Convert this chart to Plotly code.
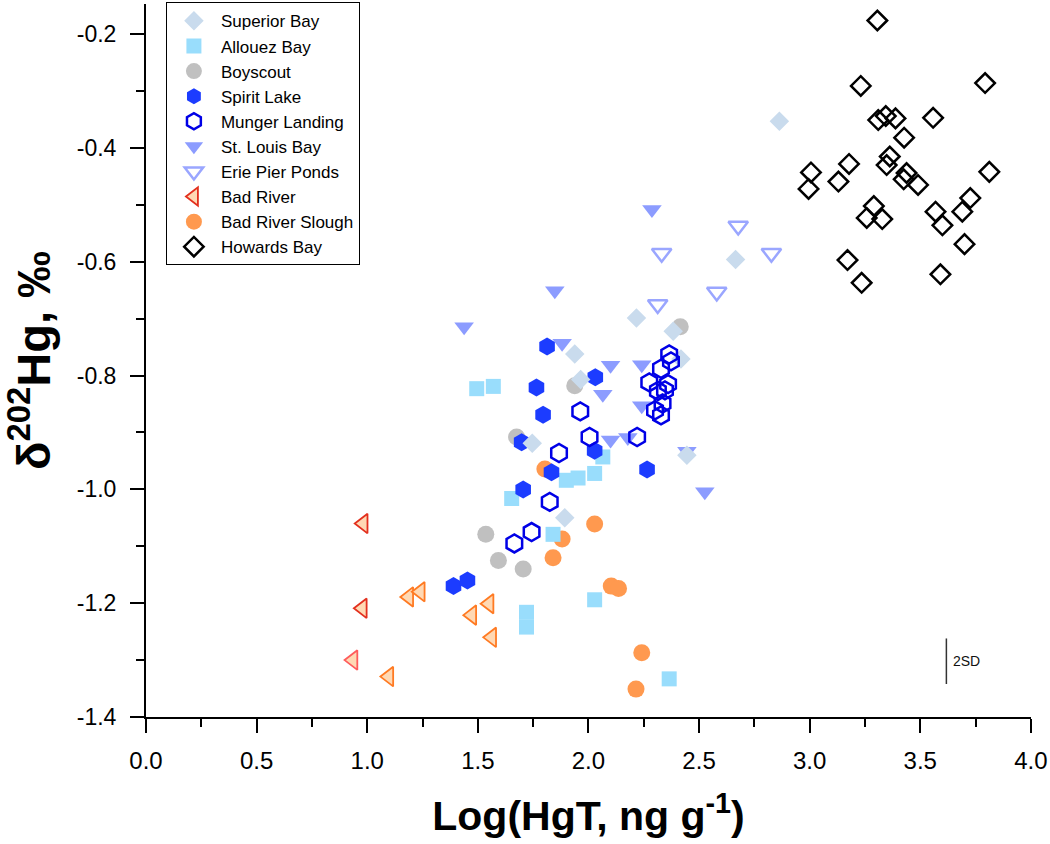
import plotly.graph_objects as go

# ---------------- data ----------------
superior_x = [2.863, 2.665, 2.217, 2.383, 2.418, 1.938, 1.965, 1.746, 2.445, 1.893]
superior_y = [-0.353, -0.596, -0.699, -0.722, -0.771, -0.762, -0.807, -0.919, -0.940, -1.050]

allouez_x = [1.495, 1.570, 2.065, 2.028, 1.953, 1.900, 1.653, 1.840, 1.720, 1.720, 2.028, 2.365]
allouez_y = [-0.823, -0.819, -0.943, -0.972, -0.980, -0.984, -1.016, -1.079, -1.216, -1.242, -1.194, -1.333]

boyscout_x = [2.415, 1.938, 1.675, 1.536, 1.593, 1.705]
boyscout_y = [-0.714, -0.818, -0.908, -1.079, -1.125, -1.140]

spirit_x = [1.813, 2.031, 1.765, 1.795, 1.698, 2.028, 1.833, 2.265, 1.705, 1.390, 1.453]
spirit_y = [-0.749, -0.803, -0.821, -0.869, -0.917, -0.932, -0.970, -0.965, -1.000, -1.170, -1.160]

munger_x = [2.365, 2.373, 2.328, 2.275, 2.360, 2.314, 2.346, 2.335, 2.301, 2.328,
            1.963, 2.005, 2.220, 1.867, 1.825, 1.743, 1.665]
munger_y = [-0.763, -0.775, -0.788, -0.812, -0.815, -0.827, -0.826, -0.849, -0.861, -0.870,
            -0.863, -0.908, -0.908, -0.936, -1.022, -1.075, -1.095]

stlouis_x = [1.438, 1.848, 2.287, 1.881, 2.100, 2.241, 2.065, 2.241, 2.100, 2.178, 2.445, 2.526]
stlouis_y = [-0.714, -0.651, -0.508, -0.743, -0.782, -0.781, -0.833, -0.853, -0.913, -0.909, -0.933, -1.004]

erie_x = [2.677, 2.331, 2.827, 2.580, 2.313]
erie_y = [-0.537, -0.585, -0.585, -0.653, -0.675]

badriver_x = [0.982, 0.978, 1.188, 1.240, 1.473, 1.551, 1.563, 0.936, 1.098]
badriver_y = [-1.060, -1.209, -1.189, -1.180, -1.221, -1.201, -1.260, -1.300, -1.329]
badriver_edge = ["#e3301e", "#e3301e", "#ff7a22", "#ff7a22", "#ff7a22", "#ff7a22", "#ff7a22", "#ff5c5c", "#ff7a22"]

slough_x = [2.028, 1.881, 1.840, 1.803, 2.103, 2.136, 2.241, 2.215]
slough_y = [-1.061, -1.087, -1.120, -0.964, -1.170, -1.174, -1.287, -1.351]

howards_x = [3.306, 3.231, 3.793, 3.344, 3.310, 3.388, 3.558, 3.427, 3.362, 3.348,
             3.178, 3.006, 2.995, 3.130, 3.438, 3.425, 3.490, 3.812, 3.290, 3.258,
             3.328, 3.569, 3.600, 3.726, 3.690, 3.700, 3.171, 3.235, 3.591]
howards_y = [-0.176, -0.291, -0.286, -0.344, -0.351, -0.348, -0.347, -0.382, -0.415, -0.430,
             -0.428, -0.443, -0.472, -0.459, -0.444, -0.455, -0.465, -0.442, -0.502, -0.523,
             -0.525, -0.512, -0.536, -0.488, -0.512, -0.569, -0.597, -0.637, -0.622]

# 2SD reference bar
sd_x = 3.618
sd_center = -1.302
sd_2 = 0.08

x_ticks = [0.0, 0.5, 1.0, 1.5, 2.0, 2.5, 3.0, 3.5, 4.0]
y_ticks = [-0.2, -0.4, -0.6, -0.8, -1.0, -1.2, -1.4]

# ---------------- figure ----------------
fig = go.Figure()

def add(name, x, y, symbol, size, color, line_color=None, line_width=0, rank=0):
    fig.add_trace(go.Scatter(
        x=x, y=y, mode="markers", name=name, legendrank=rank,
        marker=dict(symbol=symbol, size=size, color=color,
                    line=dict(color=line_color if line_color is not None else color,
                              width=line_width)),
    ))

# drawing order (bottom -> top); legendrank keeps the reference legend order
add("Howards Bay", howards_x, howards_y, "diamond-open", 15, "#000000", "#000000", 2.5, 10)
add("Bad River Slough", slough_x, slough_y, "circle", 17, "#ff994f", rank=9)
add("Bad River", badriver_x, badriver_y, "triangle-left", 17, "#ffd9b4", badriver_edge, 1.8, 8)
add("Erie Pier Ponds", erie_x, erie_y, "triangle-down-open", 17, "#9aa6ff", "#9aa6ff", 2.5, 7)
add("St. Louis Bay", stlouis_x, stlouis_y, "triangle-down", 17, "#8c9cff", rank=6)
add("Boyscout", boyscout_x, boyscout_y, "circle", 17, "#c0c0c0", rank=3)
add("Allouez Bay", allouez_x, allouez_y, "square", 15, "#99ddfc", rank=2)
add("Spirit Lake", spirit_x, spirit_y, "hexagon", 18, "#1c3cff", rank=4)
add("Superior Bay", superior_x, superior_y, "diamond", 15, "#c9dbed", rank=1)
add("Munger Landing", munger_x, munger_y, "hexagon-open", 18, "#0000e6", "#0000e6", 2.5, 5)

# 2SD bar
fig.add_shape(type="line", xref="x", yref="y",
              x0=sd_x, x1=sd_x, y0=sd_center - sd_2 / 2, y1=sd_center + sd_2 / 2,
              line=dict(color="#333333", width=1.5))
fig.add_annotation(x=sd_x, y=sd_center, xref="x", yref="y", text="2SD",
                   showarrow=False, xanchor="left", xshift=5,
                   font=dict(family="Liberation Sans, Arial", size=14, color="#111111"))

axis_common = dict(
    showline=True, linecolor="black", linewidth=2,
    ticks="outside", ticklen=14, tickwidth=2, tickcolor="black",
    showgrid=False, zeroline=False, mirror=False, automargin=False,
    ticklabeloverflow="allow",
)

fig.update_layout(
    width=1050, height=844,
    margin=dict(l=146, r=19, t=3, b=127),
    paper_bgcolor="white", plot_bgcolor="white",
    showlegend=True,
    legend=dict(
        x=0.0225, y=1.001, xanchor="left", yanchor="top",
        bordercolor="black", borderwidth=1, bgcolor="white",
        font=dict(family="Liberation Sans, Arial", size=17, color="black"),
        itemsizing="trace", itemwidth=44, tracegroupgap=0,
    ),
    xaxis=dict(
        range=[0, 4.0005], tickmode="array", tickvals=x_ticks,
        ticktext=[f"{v:.1f}" for v in x_ticks],
        tickfont=dict(family="Liberation Sans Narrow, Arial Narrow, Liberation Sans", size=24, color="black"),
        ticklabelstandoff=7,
        minor=dict(ticks="outside", ticklen=8, tickwidth=2, tickcolor="black", dtick=0.25, showgrid=False),
        title=dict(text="<b>Log(HgT, ng g<sup>-1</sup>)</b>", standoff=29,
                   font=dict(family="Liberation Sans Narrow, Arial Narrow, Liberation Sans", size=41, color="black")),
        **axis_common,
    ),
    yaxis=dict(
        range=[-1.4, -0.147], tickmode="array", tickvals=y_ticks,
        ticktext=[f"{v:.1f}" for v in y_ticks],
        tickfont=dict(family="Liberation Sans, Arial", size=23, color="black"),
        ticklabelstandoff=9,
        minor=dict(ticks="outside", ticklen=8, tickwidth=2, tickcolor="black", dtick=0.1, showgrid=False),
        title=dict(text="<b>δ<sup>202</sup>Hg, ‰</b>", standoff=22,
                   font=dict(family="Liberation Sans, Arial", size=47, color="black")),
        **axis_common,
    ),
)

fig.write_html("out.html",
               config={"displayModeBar": False},
               post_script="document.body.style.margin='0';document.body.style.overflow='hidden';")
